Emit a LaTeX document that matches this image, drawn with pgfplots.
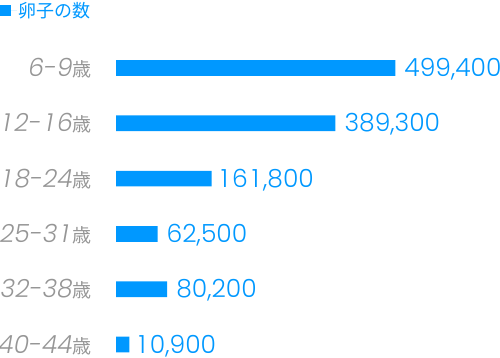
\documentclass[border=0pt]{standalone}
\usepackage{pgfplots}
\pgfplotsset{compat=1.18}
\usepackage{pgfplotstable}
\usepackage{fontspec}
\newfontfamily\pop{Poppins}[UprightFont={* Light}, ItalicFont={* Light Italic}]
\newfontfamily\cjk{Noto Sans CJK JP}
\definecolor{barblue}{RGB}{0,152,255}
\definecolor{labgray}{RGB}{150,150,150}
% give the narrow "1" about the width of the other digits (tabular figures)
\newXeTeXintercharclass\oneclass
\XeTeXcharclass`\1=\oneclass
\XeTeXinterchartoks 0 \oneclass = {\kern0.16em}
\XeTeXinterchartoks \oneclass 0 = {\kern0.16em}
\XeTeXinterchartoks \oneclass \oneclass = {\kern0.32em}
\XeTeXinterchartoks \oneclass 4095 = {\kern0.16em}
\XeTeXinterchartokenstate=1
\newcommand\lab[1]{{\pop\fontsize{25bp}{27bp}\selectfont\itshape #1}{\cjk\fontsize{19bp}{21bp}\selectfont 歳}}
\pgfplotstableread{
y v
0 499400
1 389300
2 161800
3 62500
4 80200
5 10900
}\eggs
\begin{document}
\begin{tikzpicture}
\useasboundingbox (0,0) rectangle (500bp,358bp);
\begin{axis}[
  at={(116bp,-14.15bp)}, anchor=south west,
  scale only axis, width=380.9bp, height=331.8bp,
  xmin=0, xmax=700000, ymin=-0.5, ymax=5.5, y dir=reverse,
  axis line style={draw=none}, major tick length=0pt,
  xtick=\empty,
  ytick={0,1,2,3,4,5},
  yticklabels={\lab{6-9},\lab{12-16},\lab{18-24},\lab{25-31},\lab{32-38},\lab{40-44}},
  yticklabel style={anchor=base east, inner sep=0pt, xshift=-24bp, yshift=-8.6bp, text=labgray},
  nodes near coords={\pgfmathprintnumber[assume math mode=true, fixed, precision=0, 1000 sep={,}]{\pgfplotspointmeta}},
  nodes near coords style={anchor=base west, inner sep=0pt, xshift=9bp, yshift=-8.6bp, text=barblue, font=\pop\fontsize{25bp}{27bp}\selectfont},
  point meta=explicit,
  legend image code/.code={\fill[barblue] (0bp,-5.5bp) rectangle (11bp,5.5bp); \path (0bp,0bp) -- (17bp,0bp);},
  legend style={at={(axis description cs:-0.3046,1.1216)}, anchor=north west, draw=none, fill=none, inner sep=0pt, outer sep=0pt, text=barblue, font=\cjk\fontsize{18bp}{20bp}\selectfont},
]
\addplot[xbar, fill=barblue, draw=none, bar width=15.7bp] table[x expr=\thisrow{v}+13800, y=y, meta=v] {\eggs};
\addlegendentry{卵子の数}
\end{axis}
\end{tikzpicture}
\end{document}
